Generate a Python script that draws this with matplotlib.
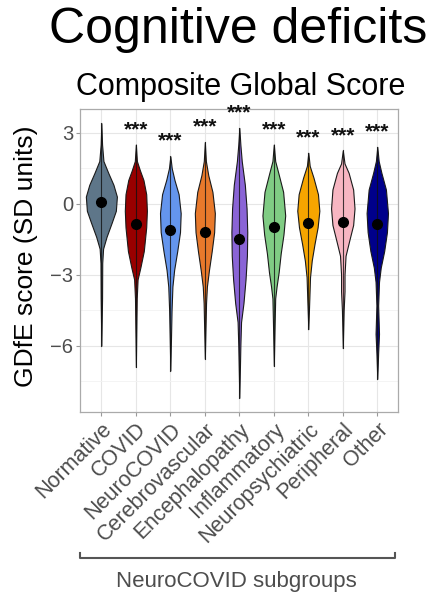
import matplotlib.pyplot as plt
import numpy as np

plt.rcParams['font.family'] = ['Liberation Sans', 'DejaVu Sans']

groups = ['Normative', 'COVID', 'NeuroCOVID', 'Cerebrovascular', 'Encephalopathy',
          'Inflammatory', 'Neuropsychiatric', 'Peripheral', 'Other']
colors = ['#5e7689', '#990000', '#6495ed', '#e8792b', '#8a64d6',
          '#80cc84', '#f6a500', '#f7b6c2', '#00008b']
means = [0.06, -0.86, -1.1, -1.21, -1.49, -1.0, -0.83, -0.76, -0.86]
stars = ['', '***', '***', '***', '***', '***', '***', '***', '***']

# violin outlines: score levels (top to bottom) and half-widths in category units
prof_y = [
    [3.4, 2.5, 1.8, 1.3, 0.8, 0.3, -0.3, -0.8, -1.4, -1.9, -2.5, -4.0, -6.0],
    [2.5, 1.8, 1.4, 1.0, 0.4, -0.3, -1.0, -2.0, -2.7, -3.2, -4.0, -6.9],
    [2.0, 1.5, 1.0, 0.4, -0.4, -1.2, -2.0, -2.8, -3.5, -4.5, -7.05],
    [2.6, 1.8, 1.2, 0.5, -0.4, -1.2, -2.0, -2.8, -3.5, -4.2, -6.55],
    [3.2, 2.5, 1.8, 0.8, -0.2, -1.2, -2.2, -3.2, -4.2, -5.0, -6.0, -8.2],
    [2.5, 1.8, 1.3, 0.5, -0.5, -1.3, -2.1, -2.9, -3.5, -4.0, -5.0, -6.85],
    [2.15, 1.6, 1.1, 0.4, -0.3, -1.0, -1.7, -2.4, -3.1, -4.0, -5.3],
    [2.25, 1.7, 1.3, 0.6, -0.2, -0.9, -1.6, -2.2, -3.0, -3.7, -4.5, -6.1],
    [2.4, 1.8, 1.3, 0.6, -0.4, -1.2, -2.0, -2.7, -3.3, -4.3, -5.5, -6.3, -7.4],
]
prof_w = [
    [0.0, 0.02, 0.06, 0.2, 0.35, 0.45, 0.42, 0.3, 0.15, 0.05, 0.025, 0.02, 0.0],
    [0.0, 0.03, 0.12, 0.22, 0.3, 0.32, 0.3, 0.23, 0.13, 0.05, 0.025, 0.0],
    [0.0, 0.04, 0.12, 0.24, 0.3, 0.28, 0.2, 0.11, 0.06, 0.035, 0.0],
    [0.0, 0.03, 0.1, 0.22, 0.29, 0.27, 0.2, 0.12, 0.06, 0.035, 0.0],
    [0.0, 0.03, 0.07, 0.16, 0.21, 0.23, 0.22, 0.18, 0.12, 0.05, 0.03, 0.0],
    [0.0, 0.04, 0.13, 0.27, 0.33, 0.28, 0.2, 0.14, 0.08, 0.04, 0.025, 0.0],
    [0.0, 0.04, 0.15, 0.28, 0.32, 0.27, 0.18, 0.1, 0.05, 0.03, 0.0],
    [0.0, 0.05, 0.17, 0.3, 0.34, 0.3, 0.18, 0.08, 0.05, 0.05, 0.025, 0.0],
    [0.0, 0.04, 0.12, 0.25, 0.31, 0.28, 0.2, 0.1, 0.05, 0.025, 0.05, 0.025, 0.0],
]

fig = plt.figure(figsize=(4.34, 5.96), dpi=100)
ax = fig.add_axes([0.1843, 0.3087, 0.7327, 0.5084])

for i, (ys, ws) in enumerate(zip(prof_y, prof_w)):
    x = i + 1
    ys = np.array(ys)
    ws = np.array(ws)
    ax.fill_betweenx(ys, x - ws, x + ws, facecolor=colors[i], edgecolor='#1a1a1a',
                     linewidth=0.8, joinstyle='round', zorder=3)
    ax.plot([x, x], [ys.min(), ys.max()], color='#111111', lw=0.8, alpha=0.8, zorder=4)
    ax.plot(x, means[i], 'o', color='black', ms=7, zorder=5)
    if stars[i]:
        ax.text(x, ys.max() + 0.4, stars[i], ha='center', va='baseline',
                fontsize=15, fontweight='bold', color='#111111', zorder=5)

ax.set_xlim(0.38, 9.6)
ax.set_ylim(-8.8, 4.0)
ax.set_xticks(range(1, len(groups) + 1))
ax.set_xticklabels(groups, rotation=45, ha='right', va='top',
                   rotation_mode='anchor', fontsize=15.5, color='#4d4d4d')
ax.set_yticks([3, 0, -3, -6])
ax.set_yticklabels(['3', '0', '\u22123', '\u22126'], fontsize=14.5, color='#4d4d4d')
ax.set_yticks([1.5, -1.5, -4.5, -7.5], minor=True)
ax.tick_params(axis='both', which='major', length=3, color='#999999', width=0.8, pad=2)
ax.tick_params(axis='y', which='minor', length=0)
ax.grid(True, which='major', color='#e6e6e6', lw=0.8)
ax.grid(True, which='minor', axis='y', color='#f2f2f2', lw=0.6)
ax.set_axisbelow(True)
for s in ax.spines.values():
    s.set_color('#aaaaaa')
    s.set_linewidth(0.9)

fig.text(26 / 434, 1 - 256 / 596, 'GDfE score (SD units)', rotation=90,
         ha='center', va='center', fontsize=19)

fig.text(0.548, 1 - 43 / 596, 'Cognitive deficits', ha='center', va='baseline', fontsize=36)
fig.text(0.555, 1 - 95 / 596, 'Composite Global Score', ha='center', va='baseline', fontsize=22)

# bracket spanning the subgroup labels
bx0, bx1, by = 80 / 434, 395 / 434, 1 - 558 / 596
fig.add_artist(plt.Line2D([bx0, bx0, bx1, bx1], [by + 0.008, by, by, by + 0.008],
                          transform=fig.transFigure, color='#555555', lw=1.5))
fig.text(0.544, 1 - 582 / 596, 'NeuroCOVID subgroups', ha='center', va='center',
         fontsize=16, color='#4d4d4d')

plt.savefig('out.png', dpi=100)
